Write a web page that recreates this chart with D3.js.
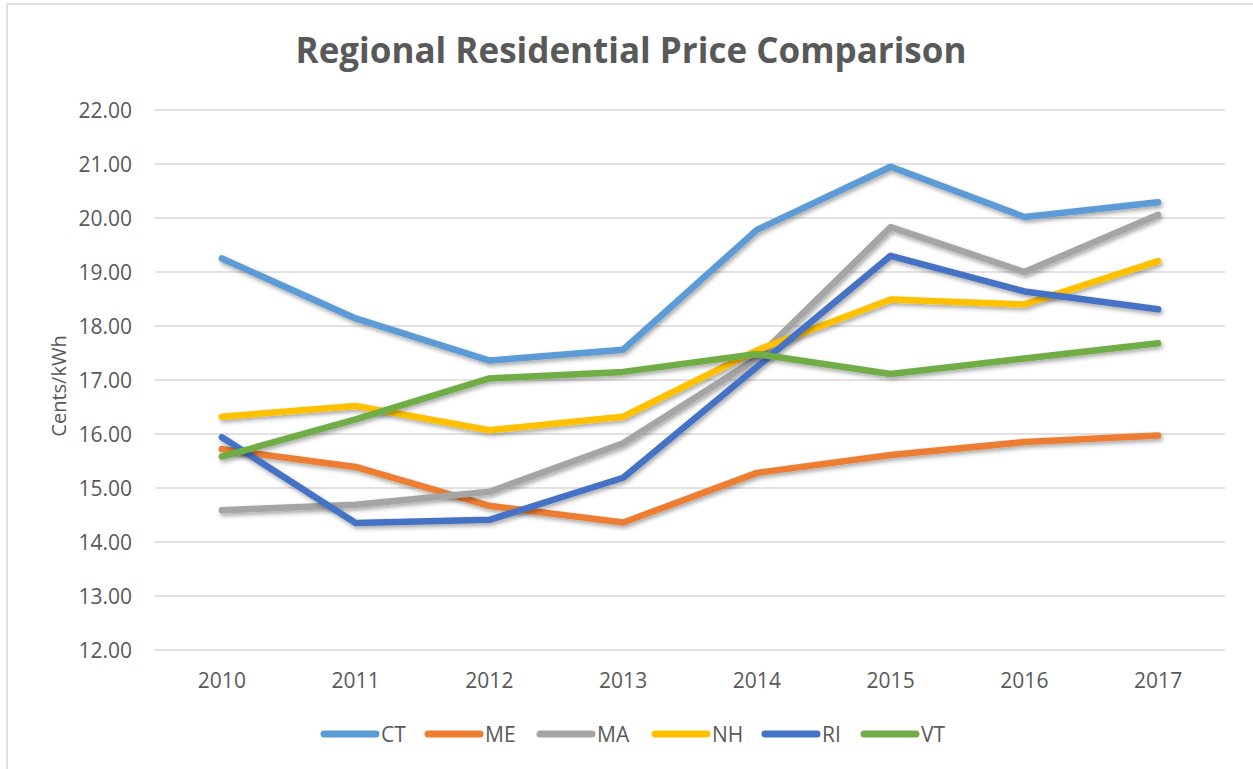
<!DOCTYPE html>
<html>
<head>
<meta charset="utf-8">
<script src="https://cdn.jsdelivr.net/npm/d3@7"></script>
<style>
    body { margin: 0; background: #fff; }
    text { font-family: "Open Sans", "Liberation Sans", sans-serif; fill: #595959; }
</style>
</head>
<body>
<div id="chart"></div>
<script>
// Data
const years = ["2010", "2011", "2012", "2013", "2014", "2015", "2016", "2017"];
const yTicks = [12, 13, 14, 15, 16, 17, 18, 19, 20, 21, 22];

const ctValues = [19.25, 18.14, 17.36, 17.56, 19.78, 20.95, 20.02, 20.29];
const meValues = [15.72, 15.39, 14.67, 14.36, 15.28, 15.61, 15.85, 15.97];
const maValues = [14.59, 14.69, 14.93, 15.83, 17.40, 19.83, 19.00, 20.06];
const nhValues = [16.32, 16.52, 16.07, 16.32, 17.55, 18.49, 18.40, 19.20];
const riValues = [15.94, 14.35, 14.41, 15.19, 17.24, 19.30, 18.64, 18.31];
const vtValues = [15.58, 16.27, 17.03, 17.15, 17.48, 17.11, 17.40, 17.68];

const seriesNames = ["CT", "ME", "MA", "NH", "RI", "VT"];
const seriesColors = ["#5B9BD5", "#ED7D31", "#A5A5A5", "#FFC000", "#4472C4", "#70AD47"];

const TITLE = "Regional Residential Price Comparison";
const Y_LABEL = "Cents/kWh";

const WIDTH = 1253;
const HEIGHT = 769;
const margin = { top: 110, right: 28, bottom: 119, left: 155 };
const plotW = WIDTH - margin.left - margin.right;
const plotH = HEIGHT - margin.top - margin.bottom;
const FONT_SIZE = "21px";

const series = [ctValues, meValues, maValues, nhValues, riValues, vtValues].map((vals, i) => ({
    name: seriesNames[i],
    color: seriesColors[i],
    values: vals.map((v, j) => ({ year: years[j], value: v }))
}));

const svg = d3.select("#chart")
    .append("svg")
    .attr("width", WIDTH)
    .attr("height", HEIGHT);

// soft shadow under the lines, like the office chart
const defs = svg.append("defs");
const shadow = defs.append("filter")
    .attr("id", "shadow")
    .attr("x", "-10%").attr("y", "-10%")
    .attr("width", "120%").attr("height", "130%");
shadow.append("feDropShadow")
    .attr("dx", 1.5).attr("dy", 2.5)
    .attr("stdDeviation", 2)
    .attr("flood-color", "#000")
    .attr("flood-opacity", 0.35);

// chart border (right/bottom edges fall off the picture)
svg.append("rect")
    .attr("x", 7).attr("y", 4)
    .attr("width", WIDTH + 20).attr("height", HEIGHT + 20)
    .attr("fill", "none")
    .attr("stroke", "#d9d9d9")
    .attr("stroke-width", 1.5);

svg.append("text")
    .attr("x", 631)
    .attr("y", 63)
    .attr("text-anchor", "middle")
    .style("font-size", "35px")
    .style("font-weight", "bold")
    .text(TITLE);

const g = svg.append("g")
    .attr("transform", `translate(${margin.left},${margin.top})`);

const x = d3.scaleBand()
    .domain(years)
    .range([0, plotW]);

const y = d3.scaleLinear()
    .domain([12, 22])
    .range([plotH, 0]);

// gridlines
g.append("g")
    .selectAll("line")
    .data(yTicks)
    .join("line")
    .attr("x1", 0)
    .attr("x2", plotW)
    .attr("y1", d => y(d))
    .attr("y2", d => y(d))
    .attr("stroke", "#d9d9d9")
    .attr("stroke-width", 1.5);

// y axis
const yAxis = g.append("g")
    .call(d3.axisLeft(y)
        .tickValues(yTicks)
        .tickFormat(d3.format(".2f"))
        .tickSize(0)
        .tickPadding(23));
yAxis.select(".domain").remove();
yAxis.selectAll("text")
    .attr("dy", "0.35em")
    .style("font-size", FONT_SIZE)
    .style("font-family", "\"Open Sans\", sans-serif")
    .attr("fill", "#595959");

// x axis
const xAxis = g.append("g")
    .attr("transform", `translate(0,${plotH})`)
    .call(d3.axisBottom(x).tickSize(0));
xAxis.select(".domain").remove();
xAxis.selectAll("text")
    .attr("y", 38)
    .attr("dy", 0)
    .style("font-size", FONT_SIZE)
    .style("font-family", "\"Open Sans\", sans-serif")
    .attr("fill", "#595959");

// y label
svg.append("text")
    .attr("transform", "rotate(-90)")
    .attr("x", -386)
    .attr("y", 66)
    .attr("text-anchor", "middle")
    .style("font-size", "20px")
    .text(Y_LABEL);

// lines
const line = d3.line()
    .x(d => x(d.year) + x.bandwidth() / 2)
    .y(d => y(d.value));

g.append("g")
    .selectAll("path")
    .data(series)
    .join("path")
    .attr("d", d => line(d.values))
    .attr("fill", "none")
    .attr("stroke", d => d.color)
    .attr("stroke-width", 6.5)
    .attr("stroke-linecap", "round")
    .attr("stroke-linejoin", "round")
    .attr("filter", "url(#shadow)");

// legend
const legendX = [322, 426, 538, 653, 763, 862];
const legend = svg.append("g")
    .selectAll("g")
    .data(series)
    .join("g")
    .attr("transform", (d, i) => `translate(${legendX[i]},734)`);

legend.append("line")
    .attr("x1", 2).attr("x2", 54)
    .attr("y1", 0).attr("y2", 0)
    .attr("stroke", d => d.color)
    .attr("stroke-width", 7)
    .attr("stroke-linecap", "round");

legend.append("text")
    .attr("x", 59)
    .attr("y", 7.5)
    .style("font-size", FONT_SIZE)
    .text(d => d.name);
</script>
</body>
</html>
